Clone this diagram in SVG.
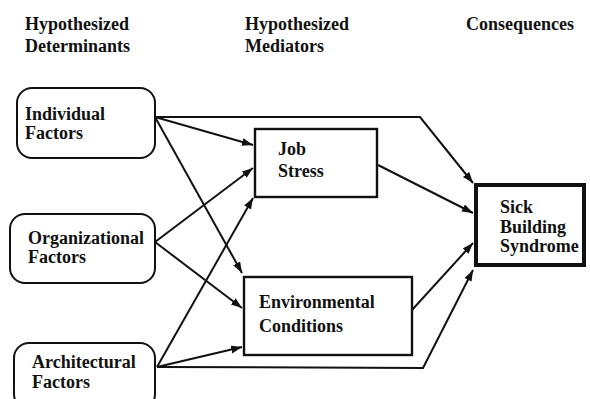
<svg xmlns="http://www.w3.org/2000/svg" width="590" height="399" viewBox="0 0 590 399">
  <style>
    text { font-family: "Liberation Serif", "Times New Roman", serif; font-weight: bold; font-size: 18px; fill: #111; }
    .src { fill: #fff; stroke: #111; stroke-width: 2; }
    .mid { fill: #fff; stroke: #111; stroke-width: 2.4; }
    .out { fill: #fff; stroke: #111; stroke-width: 4; }
    .edge { fill: none; stroke: #111; stroke-width: 2; stroke-linejoin: miter; }
  </style>
  <defs>
    <marker id="arrow" markerUnits="userSpaceOnUse" markerWidth="12" markerHeight="9" refX="11" refY="4" orient="auto">
      <path d="M0,0 L11,4 L0,8 z" fill="#111"/>
    </marker>
  </defs>

  <rect width="590" height="399" fill="#fff"/>

  <!-- column headings -->
  <g id="headings">
    <text x="25" y="30">Hypothesized</text>
    <text x="25" y="52">Determinants</text>
    <text x="245" y="30">Hypothesized</text>
    <text x="245" y="52">Mediators</text>
    <text x="466" y="30">Consequences</text>
  </g>

  <!-- connectors -->
  <g id="connectors">
    <line class="edge" x1="155" y1="117" x2="253" y2="145" marker-end="url(#arrow)"/>
    <line class="edge" x1="155" y1="117" x2="242" y2="273" marker-end="url(#arrow)"/>
    <polyline class="edge" points="155,117 420,117 473,183" marker-end="url(#arrow)"/>
    <line class="edge" x1="155" y1="242" x2="253" y2="168" marker-end="url(#arrow)"/>
    <line class="edge" x1="155" y1="242" x2="242" y2="308" marker-end="url(#arrow)"/>
    <line class="edge" x1="157" y1="367" x2="253" y2="198" marker-end="url(#arrow)"/>
    <line class="edge" x1="157" y1="367" x2="242" y2="347" marker-end="url(#arrow)"/>
    <polyline class="edge" points="157,367 423,368 473,270" marker-end="url(#arrow)"/>
    <line class="edge" x1="378" y1="165" x2="473" y2="213" marker-end="url(#arrow)"/>
    <line class="edge" x1="412" y1="310" x2="473" y2="243" marker-end="url(#arrow)"/>
  </g>

  <!-- determinants -->
  <g id="individual">
    <rect class="src" x="17" y="88" width="138" height="70" rx="15"/>
    <text x="25" y="120">Individual</text>
    <text x="25" y="139">Factors</text>
  </g>
  <g id="organizational">
    <rect class="src" x="10" y="214" width="145" height="69" rx="15"/>
    <text x="28" y="244">Organizational</text>
    <text x="28" y="263">Factors</text>
  </g>
  <g id="architectural">
    <rect class="src" x="14" y="343" width="141" height="66" rx="15"/>
    <text x="32" y="368">Architectural</text>
    <text x="32" y="388">Factors</text>
  </g>

  <!-- mediators -->
  <g id="job-stress">
    <rect class="mid" x="255" y="129" width="122" height="68"/>
    <text x="278" y="155">Job</text>
    <text x="278" y="177">Stress</text>
  </g>
  <g id="environmental-conditions">
    <rect class="mid" x="244" y="277" width="168" height="78"/>
    <text x="259" y="308">Environmental</text>
    <text x="259" y="332">Conditions</text>
  </g>

  <!-- consequence -->
  <g id="sick-building-syndrome">
    <rect class="out" x="476" y="185" width="108" height="80"/>
    <text x="500" y="213">Sick</text>
    <text x="500" y="233">Building</text>
    <text x="500" y="252">Syndrome</text>
  </g>
</svg>
